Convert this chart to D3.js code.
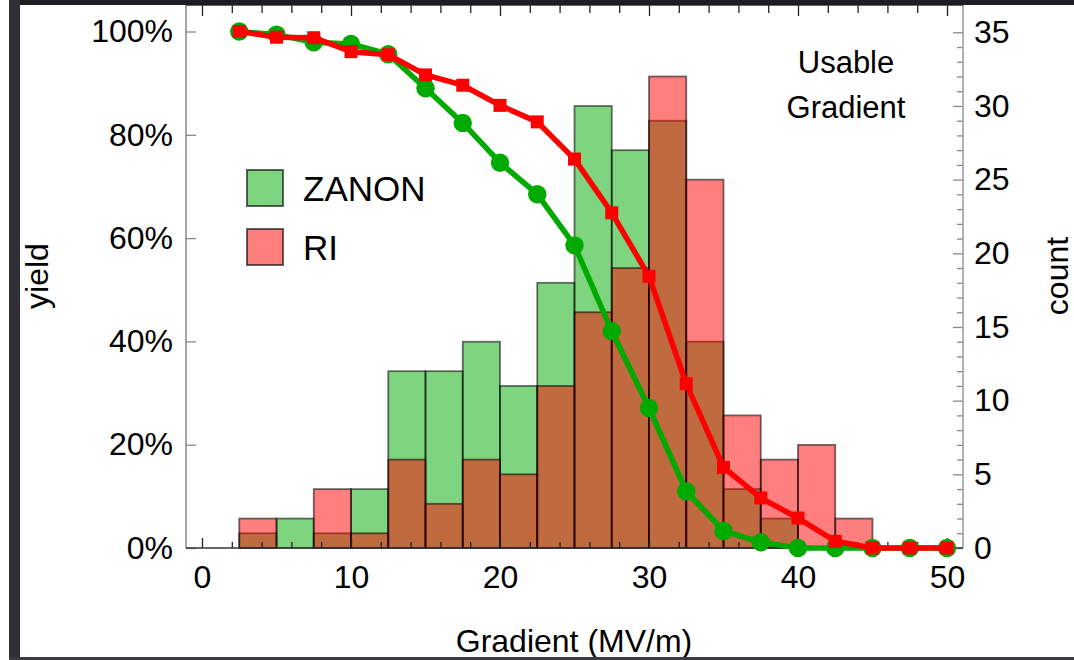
<!DOCTYPE html>
<html>
<head>
<meta charset="utf-8">
<script src="https://cdn.jsdelivr.net/npm/d3@7"></script>
<style>
  html, body { margin: 0; padding: 0; background: #fff; }
  svg { display: block; font-family: "Liberation Sans", Arial, sans-serif; }
</style>
</head>
<body>
<svg id="chart" width="1074" height="660"></svg>
<script>
// ---------- data ----------
const binStarts = [2.5, 5, 7.5, 10, 12.5, 15, 17.5, 20, 22.5, 25, 27.5, 30, 32.5, 35, 37.5, 40, 42.5];
const binWidth = 2.5;
const zanonCounts = [1, 2, 1, 4, 12, 12, 14, 11, 18, 30, 27, 29, 14, 4, 2, 0, 0];
const riCounts    = [2, 0, 4, 1, 6, 3, 6, 5, 11, 16, 19, 32, 25, 9, 6, 7, 2];

const yieldGradients = [2.5, 5, 7.5, 10, 12.5, 15, 17.5, 20, 22.5, 25, 27.5, 30, 32.5, 35, 37.5, 40, 42.5, 45, 47.5, 50];
const zanonYield = [100, 99.4, 97.9, 97.6, 95.6, 89.0, 82.3, 74.6, 68.5, 58.6, 42.0, 27.1, 11.0, 3.3, 1.1, 0, 0, 0, 0, 0];
const riYield    = [100, 98.9, 98.8, 96.1, 95.5, 91.6, 89.6, 85.7, 82.5, 75.3, 64.9, 52.6, 31.8, 15.6, 9.7, 5.8, 1.3, 0, 0, 0];

const xMajorTicks = [0, 10, 20, 30, 40, 50];
const yieldTicks = [0, 20, 40, 60, 80, 100];
const countMajorTicks = [0, 5, 10, 15, 20, 25, 30, 35];
const legendLabels = ["ZANON", "RI"];
const cornerText = ["Usable", "Gradient"];

// ---------- layout ----------
const svg = d3.select("#chart");
const frame = { left: 186, right: 963, top: 5, bottom: 548 };

const x = d3.scaleLinear().domain([0, 50]).range([202, 947]);
const yY = d3.scaleLinear().domain([0, 100]).range([548, 31.5]);
const yC = d3.scaleLinear().domain([0, 35]).range([548, 32.3]);

const FONT = 32;

// ---------- histograms ----------
const hist = svg.append("g");
function drawBars(counts, fill) {
  const data = binStarts.map((s, i) => ({ s, c: counts[i] })).filter(d => d.c > 0);
  hist.append("g").selectAll("rect").data(data).join("rect")
    .attr("x", d => x(d.s))
    .attr("width", d => x(d.s + binWidth) - x(d.s))
    .attr("y", d => yC(d.c))
    .attr("height", d => yC(0) - yC(d.c))
    .attr("fill", fill)
    .attr("fill-opacity", 0.5)
    .attr("stroke", "#000")
    .attr("stroke-opacity", 0.55)
    .attr("stroke-width", 1.8);
}
drawBars(zanonCounts, "#00a900");
drawBars(riCounts, "#ff0000");

// ---------- axes / frame ----------
const minorX = d3.range(0, 51, 2).filter(v => !xMajorTicks.includes(v));
const minorC = d3.range(0, 36, 1).filter(v => v % 5 !== 0);

function styleAxis(g) {
  g.select(".domain").remove();
  g.selectAll("text").attr("font-size", FONT).attr("fill", "#000")
    .attr("font-family", "'Liberation Sans', Arial, sans-serif");
}

// bottom
svg.append("g").attr("transform", `translate(0,${frame.bottom})`)
  .call(d3.axisBottom(x).tickValues(xMajorTicks).tickSize(-10).tickPadding(17).tickFormat(d3.format("d")))
  .call(styleAxis).selectAll("line").attr("stroke", "#222").attr("stroke-width", 1.3);
svg.append("g").attr("transform", `translate(0,${frame.bottom})`)
  .call(d3.axisBottom(x).tickValues(minorX).tickSize(-6).tickFormat(""))
  .call(styleAxis).selectAll("line").attr("stroke", "#222").attr("stroke-width", 1.3);
// top
svg.append("g").attr("transform", `translate(0,${frame.top})`)
  .call(d3.axisTop(x).tickValues(xMajorTicks).tickSize(-11).tickFormat(""))
  .call(styleAxis).selectAll("line").attr("stroke", "#222").attr("stroke-width", 1.3);
svg.append("g").attr("transform", `translate(0,${frame.top})`)
  .call(d3.axisTop(x).tickValues(minorX).tickSize(-8).tickFormat(""))
  .call(styleAxis).selectAll("line").attr("stroke", "#222").attr("stroke-width", 1.3);
// left
svg.append("g").attr("transform", `translate(${frame.left},0)`)
  .call(d3.axisLeft(yY).tickValues(yieldTicks).tickSize(-10).tickPadding(13).tickFormat(d => d + "%"))
  .call(styleAxis).selectAll("line").attr("stroke", "#888").attr("stroke-width", 1.3);
// right
svg.append("g").attr("transform", `translate(${frame.right},0)`)
  .call(d3.axisRight(yC).tickValues(countMajorTicks).tickSize(-10).tickPadding(11).tickFormat(d3.format("d")))
  .call(styleAxis).selectAll("line").attr("stroke", "#888").attr("stroke-width", 1.3);
svg.append("g").attr("transform", `translate(${frame.right},0)`)
  .call(d3.axisRight(yC).tickValues(minorC).tickSize(-6).tickFormat(""))
  .call(styleAxis).selectAll("line").attr("stroke", "#888").attr("stroke-width", 1.3);

// frame lines
svg.append("line").attr("x1", frame.left).attr("x2", frame.left).attr("y1", frame.top).attr("y2", frame.bottom)
  .attr("stroke", "#888").attr("stroke-width", 1.5);
svg.append("line").attr("x1", frame.right).attr("x2", frame.right).attr("y1", frame.top).attr("y2", frame.bottom)
  .attr("stroke", "#999").attr("stroke-width", 1.5);
svg.append("line").attr("x1", frame.left).attr("x2", frame.right).attr("y1", frame.bottom).attr("y2", frame.bottom)
  .attr("stroke", "#333").attr("stroke-width", 1.5);
svg.append("line").attr("x1", frame.left).attr("x2", frame.right).attr("y1", frame.top).attr("y2", frame.top)
  .attr("stroke", "#333").attr("stroke-width", 1.5);

// ---------- yield lines ----------
const zData = yieldGradients.map((g, i) => ({ g, v: zanonYield[i] }));
const rData = yieldGradients.map((g, i) => ({ g, v: riYield[i] }));
const line = d3.line().x(d => x(d.g)).y(d => yY(d.v));

svg.append("path").datum(zData).attr("d", line).attr("fill", "none")
  .attr("stroke", "#00aa00").attr("stroke-width", 5.5).attr("stroke-linejoin", "round");
svg.append("g").selectAll("circle").data(zData).join("circle")
  .attr("cx", d => x(d.g)).attr("cy", d => yY(d.v)).attr("r", 9.2).attr("fill", "#00aa00");

svg.append("path").datum(rData).attr("d", line).attr("fill", "none")
  .attr("stroke", "#ff0000").attr("stroke-width", 5.5).attr("stroke-linejoin", "round");
const sq = 13;
svg.append("g").selectAll("rect").data(rData).join("rect")
  .attr("x", d => x(d.g) - sq / 2).attr("y", d => yY(d.v) - sq / 2)
  .attr("width", sq).attr("height", sq).attr("fill", "#ff0000");

// ---------- legend ----------
const legendFills = ["#00a900", "#ff0000"];
const lg = svg.append("g");
legendLabels.forEach((lab, i) => {
  const top = 170 + i * 59;
  lg.append("rect").attr("x", 247).attr("y", top).attr("width", 36).attr("height", 36)
    .attr("fill", legendFills[i]).attr("fill-opacity", 0.5)
    .attr("stroke", "#000").attr("stroke-opacity", 0.6).attr("stroke-width", 2);
  lg.append("text").attr("x", 303).attr("y", top + 31).attr("font-size", 35).attr("fill", "#000").text(lab);
});

// corner text
cornerText.forEach((t, i) => {
  svg.append("text").attr("x", 846).attr("y", 72.5 + i * 45.5).attr("text-anchor", "middle")
    .attr("font-size", 31).attr("fill", "#000").text(t);
});

// axis titles
svg.append("text").attr("text-anchor", "middle").attr("font-size", FONT)
  .attr("transform", "translate(48,276) rotate(-90)").text("yield");
svg.append("text").attr("text-anchor", "middle").attr("font-size", FONT)
  .attr("transform", "translate(1068,276) rotate(-90)").text("count");
svg.append("text").attr("text-anchor", "middle").attr("font-size", FONT)
  .attr("x", 574).attr("y", 652).text("Gradient (MV/m)");

// ---------- window border bands ----------
svg.append("rect").attr("x", 9).attr("y", 0).attr("width", 1065).attr("height", 5).attr("fill", "#1e1e22");
svg.append("rect").attr("x", 9).attr("y", 0).attr("width", 11).attr("height", 660).attr("fill", "#2f2f37");
svg.append("rect").attr("x", 9).attr("y", 657).attr("width", 1065).attr("height", 3).attr("fill", "#3a3a44");
</script>
</body>
</html>
